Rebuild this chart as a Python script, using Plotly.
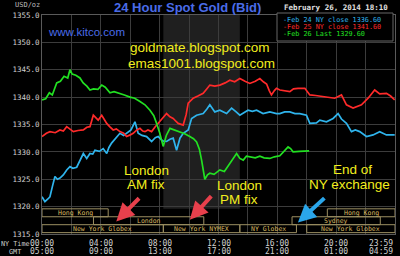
import plotly.graph_objects as go

# ---- data (NY time in hours, price USD/oz) ----
feb24_h = [0.00,0.20,0.40,0.54,0.70,0.88,1.05,1.22,1.45,1.68,1.90,2.10,2.36,2.60,2.81,3.04,3.26,3.45,3.60,3.90,
           4.16,4.40,4.55,4.73,5.00,5.30,5.55,5.75,6.05,6.32,6.54,6.80,7.11,7.45,7.70,7.90,8.20,8.47,8.70,8.92,
           9.15,9.38,9.60,9.94,10.17,10.51,10.96,11.20,11.41,11.75,12.09,12.55,12.89,13.20,13.45,13.75,14.01,
           14.30,14.59,15.03,15.49,15.94,16.17,16.50,16.85,17.20,17.53,17.98,18.21,18.66,18.89,19.34,19.79,
           20.13,20.36,20.70,21.04,21.30,21.60,22.06,22.51,22.96,23.42,23.98]
feb24_v = [1321.8,1320.9,1321.4,1321.8,1323.6,1325.5,1325.0,1325.2,1325.8,1326.7,1327.3,1327.0,1327.2,1328.4,1329.7,
           1328.8,1329.7,1329.6,1330.3,1330.1,1330.6,1329.7,1330.8,1331.6,1332.5,1333.4,1333.0,1333.4,1334.0,1335.5,
           1333.4,1333.0,1332.8,1331.9,1332.6,1332.8,1332.0,1331.9,1332.3,1332.5,1330.3,1332.5,1333.4,1334.0,1336.1,
           1336.7,1337.0,1337.8,1338.6,1337.3,1337.6,1337.0,1338.0,1337.3,1336.7,1337.2,1337.6,1337.4,1337.6,1337.0,
           1337.3,1337.0,1337.0,1337.3,1337.3,1337.0,1337.0,1336.7,1335.2,1335.3,1335.8,1335.5,1336.1,1337.0,1336.0,
           1335.2,1333.7,1334.0,1333.7,1332.8,1333.1,1333.7,1333.1,1333.1]

feb25_h = [0.00,0.30,0.54,0.90,1.22,1.45,1.68,1.90,2.13,2.45,2.81,3.05,3.26,3.49,3.65,3.82,4.06,4.20,4.40,4.60,
           4.84,5.05,5.30,5.55,5.75,6.00,6.20,6.45,6.66,6.85,7.00,7.20,7.45,7.70,7.90,8.20,8.47,8.70,8.92,9.10,
           9.26,9.60,9.80,9.94,10.28,10.60,10.96,11.20,11.41,11.75,12.09,12.45,12.77,13.10,13.45,13.80,14.13,
           14.50,14.81,15.05,15.27,15.45,15.60,15.80,15.94,16.17,16.50,16.85,17.10,17.41,17.87,18.05,18.21,
           18.60,19.11,19.50,19.90,20.36,20.55,20.70,21.15,21.40,21.72,22.17,22.62,22.96,23.42,23.70,23.98]
feb25_v = [1332.8,1333.4,1333.7,1333.5,1334.0,1333.8,1334.6,1334.2,1333.7,1333.9,1334.0,1334.5,1334.6,1336.7,1336.2,
           1335.8,1336.7,1336.0,1335.2,1334.6,1334.0,1334.2,1333.7,1333.4,1332.8,1333.1,1333.4,1334.0,1334.3,1333.8,
           1333.7,1334.0,1333.7,1334.6,1335.2,1336.3,1337.0,1336.4,1336.1,1335.6,1335.2,1334.9,1336.8,1338.9,1339.8,
           1340.2,1340.7,1341.5,1342.2,1342.0,1342.2,1342.6,1343.1,1342.8,1343.4,1342.9,1342.5,1342.9,1343.4,1342.8,
           1342.4,1341.2,1340.4,1341.2,1341.6,1341.3,1341.1,1341.0,1341.5,1341.6,1341.6,1341.0,1340.4,1340.3,1340.1,
           1340.0,1339.8,1340.4,1339.5,1338.6,1338.0,1338.3,1338.6,1339.8,1341.3,1340.6,1340.7,1340.2,1339.5]

feb26_h = [0.00,0.25,0.50,0.70,1.00,1.25,1.50,1.75,1.90,2.05,2.30,2.58,2.80,3.05,3.26,3.50,3.80,4.06,4.30,4.62,
           4.90,5.30,5.60,5.98,6.30,6.66,7.00,7.34,7.60,7.79,8.00,8.24,8.45,8.70,9.00,9.38,9.70,10.05,10.30,10.51,
           10.70,10.85,11.00,11.07,11.25,11.41,11.70,12.09,12.40,12.77,13.00,13.23,13.45,13.68,13.90,14.13,14.50,
           14.81,15.10,15.49,15.80,16.17,16.50,16.73,16.90,17.07,17.50,18.16]
feb26_v = [1339.5,1339.7,1340.8,1340.4,1342.6,1342.9,1343.8,1343.5,1345.0,1344.2,1344.0,1343.5,1342.6,1342.0,1341.3,
           1341.5,1341.4,1342.2,1341.8,1340.8,1341.0,1340.7,1340.4,1340.0,1339.8,1339.2,1338.6,1337.6,1336.6,1335.2,
           1333.5,1331.0,1333.0,1334.3,1334.0,1333.6,1333.3,1332.8,1332.4,1331.8,1330.5,1328.5,1326.0,1325.0,1325.8,
           1326.1,1325.9,1326.7,1326.4,1327.9,1328.6,1329.7,1328.8,1328.5,1329.2,1329.1,1328.9,1329.2,1328.9,1328.8,
           1329.1,1329.3,1330.2,1330.9,1330.6,1330.0,1330.1,1330.2]

legend_labels = ["-Feb 24 NY close 1336.60", "-Feb 25 NY close 1341.60", "-Feb 26 Last 1329.60"]
series_colors = ["#2fb4ec", "#ff2a2a", "#22e022"]

ny_ticks = ["00:00", "04:00", "08:00", "12:00", "16:00", "20:00", "23:59"]
gmt_ticks = ["05:00", "09:00", "13:00", "17:00", "21:00", "01:00", "04:59"]
tick_hours = [0, 4, 8, 12, 16, 20, 24]
y_ticks = [1315, 1320, 1325, 1330, 1335, 1340, 1345, 1350, 1355]

# market sessions: (label, start hour, end hour, row)
sessions = [("Hong Kong", 0.0, 4.5, 0), ("Hong Kong", 19.4, 24.0, 0),
            ("London", 3.5, 11.0, 1), ("Sydney", 17.0, 23.0, 1),
            ("New York Globex", 0.0, 8.25, 2), ("New York NYMEX", 8.25, 13.45, 2),
            ("NY Globex", 13.45, 17.3, 2), ("New York Globex", 18.0, 24.0, 2)]
row_top = [1319.6, 1318.15, 1316.7]
row_h = 1.45
pit_session = (8.25, 13.45)

# arrows: (tip hour, tip price, tail hour, tail price, colour)
arrows = [(5.05, 1317.3, 6.7, 1321.8, "#e8404c"),
          (10.05, 1317.6, 11.6, 1322.2, "#e8404c"),
          (17.4, 1317.1, 19.3, 1321.8, "#2aa6ea")]

# ---- figure ----
L, R, T, B = 42, 5, 15, 22
W, H = 400, 256
pw, ph = W - L - R, H - T - B
def px(x): return (x - L) / pw
def py(y): return (H - B - y) / ph

fig = go.Figure()
for h, v, c in zip([feb24_h, feb25_h, feb26_h], [feb24_v, feb25_v, feb26_v], series_colors):
    fig.add_trace(go.Scatter(x=h, y=v, mode="lines", line=dict(color=c, width=1.7), showlegend=False,
                             hoverinfo="skip"))

shapes = []
shapes.append(dict(type="rect", xref="x", yref="y", x0=pit_session[0], x1=pit_session[1], y0=1319.6, y1=1355,
                   fillcolor="#1f1f1f", line=dict(width=0), layer="below"))
annos = []
for lab, s, e, r in sessions:
    shapes.append(dict(type="rect", xref="x", yref="y", x0=s, x1=e, y0=row_top[r] - row_h, y1=row_top[r],
                       line=dict(color="#9c8f62", width=1), fillcolor="rgba(0,0,0,0)"))
    annos.append(dict(x=(s + e) / 2, y=row_top[r] - row_h / 2, xref="x", yref="y", text=lab, showarrow=False,
                      font=dict(family="DejaVu Sans Mono", size=6.5, color="#d8b860")))

mono = "DejaVu Sans Mono"
sans = "Liberation Sans, Arial"
yellow = "#f2ee1e"
blue = "#4a6ce8"

# legend box
shapes.append(dict(type="rect", xref="paper", yref="paper", x0=px(277), x1=px(393), y0=py(41), y1=py(13),
                   line=dict(color="#666666", width=1), fillcolor="#000000", layer="above"))
for i, (lab, c) in enumerate(zip(legend_labels, series_colors)):
    annos.append(dict(x=px(281), y=py(20 + 7 * i), xref="paper", yref="paper", text=lab, showarrow=False,
                      xanchor="left", yanchor="middle", font=dict(family=mono, size=6.8, color=c)))

annos += [
    dict(x=px(187), y=py(8), text="<b>24 Hour Spot Gold (Bid)</b>", font=dict(family=sans, size=13, color=blue)),
    dict(x=px(27), y=py(5), text="USD/oz", font=dict(family=mono, size=7, color="#bbbbbb")),
    dict(x=px(336), y=py(8), text="<b>February 26, 2014 18:10</b>", font=dict(family=mono, size=7.5, color="#e0e0e0")),
    dict(x=px(86), y=py(32), text="www.kitco.com", font=dict(family=sans, size=11.5, color=blue)),
    dict(x=px(200), y=py(47), text="goldmate.blogspot.com", font=dict(family=sans, size=13.5, color=yellow)),
    dict(x=px(201), y=py(63), text="emas1001.blogspot.com", font=dict(family=sans, size=13.5, color=yellow)),
    dict(x=px(146), y=py(170), text="London", font=dict(family=sans, size=13.5, color=yellow)),
    dict(x=px(146), y=py(184), text="AM fix", font=dict(family=sans, size=13.5, color=yellow)),
    dict(x=px(239), y=py(185), text="London", font=dict(family=sans, size=13.5, color=yellow)),
    dict(x=px(239), y=py(199), text="PM fix", font=dict(family=sans, size=13.5, color=yellow)),
    dict(x=px(352), y=py(169), text="End of", font=dict(family=sans, size=13.5, color=yellow)),
    dict(x=px(349), y=py(184), text="NY exchange", font=dict(family=sans, size=13.5, color=yellow)),
    dict(x=px(15), y=py(244), text="NY Time", font=dict(family=mono, size=6.8, color="#cccccc")),
    dict(x=px(15), y=py(252), text="GMT", font=dict(family=mono, size=6.8, color="#cccccc")),
]
for a in annos:
    a.setdefault("xref", "paper"); a.setdefault("yref", "paper"); a.setdefault("showarrow", False)
    if a["xref"] == "paper":
        a.setdefault("xanchor", "center"); a.setdefault("yanchor", "middle")

for th, tv, ah, av, c in arrows:
    annos.append(dict(x=th, y=tv, ax=ah, ay=av, xref="x", yref="y", axref="x", ayref="y", showarrow=True,
                      arrowhead=2, arrowsize=0.9, arrowwidth=4, arrowcolor=c, text=""))

# x tick labels as annotations (two rows: NY time, GMT)
for hh, n, g in zip(tick_hours, ny_ticks, gmt_ticks):
    anchor = "right" if hh == 24 else "center"
    annos.append(dict(x=hh, y=py(243), xref="x", yref="paper", text=n, showarrow=False, xanchor=anchor,
                      yanchor="middle", font=dict(family=mono, size=8, color="#d0d0d0")))
    annos.append(dict(x=hh, y=py(252), xref="x", yref="paper", text=g, showarrow=False, xanchor=anchor,
                      yanchor="middle", font=dict(family=mono, size=8, color="#d0d0d0")))

fig.update_layout(
    width=W, height=H, margin=dict(l=L, r=R, t=T, b=B),
    paper_bgcolor="#000000", plot_bgcolor="#000000",
    shapes=shapes, annotations=annos, showlegend=False,
    xaxis=dict(range=[0, 24], tickvals=list(range(0, 25, 2)), showticklabels=False, showgrid=True,
               gridcolor="#3c3c3c", gridwidth=1, zeroline=False, showline=True, linecolor="#5a5a5a",
               mirror=True, ticks=""),
    yaxis=dict(range=[1315, 1355], tickvals=y_ticks, tickformat=".1f", showgrid=True, gridcolor="#3c3c3c",
               zeroline=False, showline=True, linecolor="#5a5a5a", mirror=True, ticks="",
               tickfont=dict(family=mono, size=7.5, color="#d0d0d0")),
)
fig.write_html("out.html")
